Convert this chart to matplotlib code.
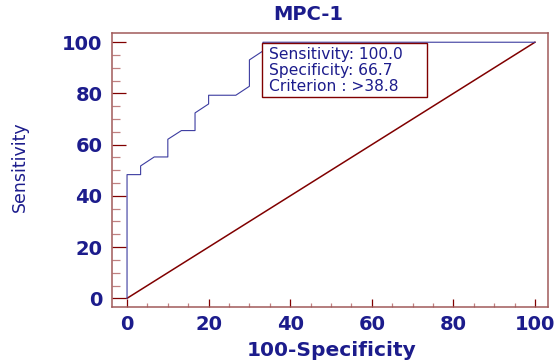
import matplotlib
matplotlib.use("Agg")
import matplotlib.pyplot as plt
from matplotlib.patches import Rectangle
from matplotlib.ticker import MultipleLocator

# ROC curve points (100-specificity, sensitivity)
fpr = [0, 0, 3.33, 3.33, 6.67, 10, 10, 13.33, 16.67, 16.67, 20, 20, 26.67, 30, 30, 33.33, 33.33, 100]
tpr = [0, 48.3, 48.3, 51.7, 55.2, 55.2, 62.1, 65.5, 65.5, 72.4, 75.9, 79.3, 79.3, 82.8, 93.1, 96.6, 100, 100]
diag = [0, 100]
ticks = [0, 20, 40, 60, 80, 100]
info = ["Sensitivity: 100.0", "Specificity: 66.7", "Criterion : >38.8"]

navy = "#1c1c8c"
curve_c = "#3c3ca0"
red = "#800000"
spine_c = "#a05a5a"

fig = plt.figure(figsize=(5.59, 3.62), dpi=100)
ax = fig.add_axes([0.2004, 0.1519, 0.7799, 0.7569])

ax.plot(fpr, tpr, color=curve_c, lw=0.8, zorder=3)
ax.plot(diag, diag, color=red, lw=1.1, zorder=2)

ax.set_xlim(-3.68, 103.2)
ax.set_ylim(-3.4, 103.6)
ax.set_xticks(ticks)
ax.set_yticks(ticks)
ax.xaxis.set_minor_locator(MultipleLocator(5))
ax.yaxis.set_minor_locator(MultipleLocator(5))

for s in ax.spines.values():
    s.set_color(spine_c)
    s.set_linewidth(1.1)

tfont = dict(family="DejaVu Sans", weight="semibold", size=14)
ax.tick_params(axis="x", which="major", direction="in", length=6, width=0.9,
               color=red, pad=6, labelcolor=navy)
ax.tick_params(axis="x", which="minor", direction="in", length=3, width=0.9,
               color="#c08080")
ax.tick_params(axis="y", which="major", direction="in", length=10, width=0.9,
               color=red, pad=7, labelcolor=navy)
ax.tick_params(axis="y", which="minor", direction="in", length=5.5, width=0.9,
               color="#c08080")
for lab in ax.get_xticklabels() + ax.get_yticklabels():
    lab.set_fontproperties(matplotlib.font_manager.FontProperties(**tfont))

ax.set_xlabel("100-Specificity", color=navy, fontsize=14.5, fontweight="semibold",
              family="DejaVu Sans", va="center")
ax.xaxis.set_label_coords(0.5046, -0.157)
ax.set_ylabel("Sensitivity", color=navy, fontsize=12.5, family="DejaVu Sans",
              va="center")
ax.yaxis.set_label_coords(-0.211, 0.511)
ax.set_title("MPC-1", color=navy, fontsize=14, fontweight="semibold",
             family="DejaVu Sans", x=0.4495, y=1.066, va="center", pad=0)

# criterion box
ax.add_patch(Rectangle((33.1, 78.6), 40.4, 21.1, facecolor="white",
                       edgecolor=red, lw=1.0, zorder=4))
ax.text(34.7, 88.9, "\n".join(info), color=navy, fontsize=11.2,
        family="DejaVu Sans", va="center", ha="left", linespacing=1.1, zorder=5)

fig.savefig("out.png", dpi=100)
